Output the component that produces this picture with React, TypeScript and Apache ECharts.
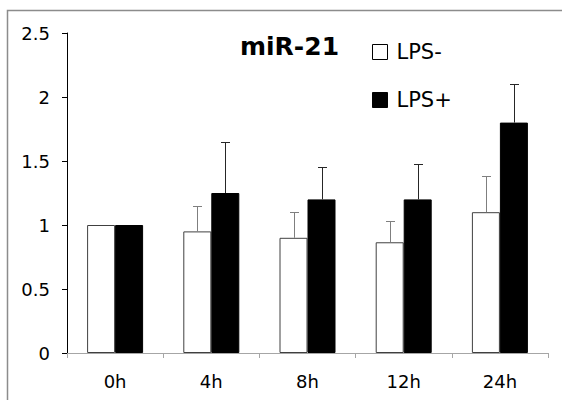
import React, { useEffect, useRef } from "react";
import * as echarts from "echarts";

const categories = ["0h", "4h", "8h", "12h", "24h"];
const lpsMinus = [1, 0.95, 0.9, 0.865, 1.1];
const lpsMinusErr = [0, 0.2, 0.2, 0.17, 0.28];
const lpsPlus = [1, 1.25, 1.2, 1.2, 1.8];
const lpsPlusErr = [0, 0.4, 0.25, 0.28, 0.3];
const yTicks = [0, 0.5, 1, 1.5, 2, 2.5];

const FONT = "DejaVu Sans";
const BAR_W = 28;

function errSeries(name: string, means: number[], errs: number[], offset: number, color: string) {
  return {
    type: "custom",
    name: name + " err",
    z: 5,
    data: means.map((m, i) => [i, m, errs[i]]),
    encode: { x: 0, y: 1 },
    renderItem: (params: any, api: any) => {
      const idx = api.value(0);
      const m = api.value(1);
      const e = api.value(2);
      if (!e) return { type: "group", children: [] };
      const p0 = api.coord([idx, m]);
      const p1 = api.coord([idx, m + e]);
      const x = Math.round(p0[0] + offset) + 0.5;
      const yt = Math.round(p1[1]) + 0.5;
      return {
        type: "group",
        children: [
          { type: "line", shape: { x1: x, y1: p0[1], x2: x, y2: yt }, style: { stroke: color, lineWidth: 1 } },
          { type: "line", shape: { x1: x - 4.5, y1: yt, x2: x + 4.5, y2: yt }, style: { stroke: color, lineWidth: 1 } },
        ],
      };
    },
  };
}

export default function App() {
  const ref = useRef<HTMLDivElement>(null);
  useEffect(() => {
    if (!ref.current) return;
    const chart = echarts.init(ref.current, undefined, { renderer: "svg" });
    chart.setOption({
      animation: false,
      backgroundColor: "#fff",
      textStyle: { fontFamily: FONT },
      title: {
        text: "miR-21",
        left: 240,
        top: 34,
        padding: 0,
        textStyle: { fontFamily: FONT, fontWeight: "bold", fontSize: 25, color: "#000" },
      },
      legend: {
        orient: "vertical",
        left: 372,
        top: 40,
        padding: 0,
        itemWidth: 15,
        itemHeight: 15,
        itemGap: 24,
        icon: "rect",
        textStyle: { fontFamily: FONT, fontSize: 21, color: "#000", padding: [0, 0, 0, 4], lineHeight: 24 },
        data: [
          { name: "LPS-", itemStyle: { color: "#fff", borderColor: "#000", borderWidth: 1 } },
          { name: "LPS+", itemStyle: { color: "#000", borderColor: "#000", borderWidth: 1 } },
        ],
      },
      graphic: [
        {
          type: "rect",
          shape: { x: 7.5, y: 10.5, width: 620, height: 420 },
          style: { fill: "none", stroke: "#8c8c8c", lineWidth: 1.5 },
          silent: true,
        },
      ],
      grid: { left: 67, right: 14, top: 33, bottom: 47 },
      xAxis: {
        type: "category",
        data: categories,
        axisLine: { lineStyle: { color: "#a6a6a6", width: 1 } },
        axisTick: { show: true, length: 5, lineStyle: { color: "#a6a6a6" } },
        axisLabel: { fontFamily: FONT, fontSize: 18, color: "#000", margin: 19 },
      },
      yAxis: {
        type: "value",
        min: 0,
        max: 2.5,
        interval: 0.5,
        splitLine: { show: false },
        axisLine: { show: true, lineStyle: { color: "#000", width: 1 } },
        axisTick: { show: true, length: 5, lineStyle: { color: "#000" } },
        axisLabel: {
          fontFamily: FONT,
          fontSize: 18,
          color: "#000",
          margin: 17,
          formatter: (v: number) => (yTicks.includes(v) ? String(v) : ""),
        },
      },
      series: [
        {
          type: "bar",
          name: "LPS-",
          data: lpsMinus,
          barWidth: BAR_W,
          barGap: "0%",
          itemStyle: { color: "#fff", borderColor: "#404040", borderWidth: 1 },
        },
        {
          type: "bar",
          name: "LPS+",
          data: lpsPlus,
          barWidth: BAR_W,
          barGap: "0%",
          itemStyle: { color: "#000", borderColor: "#000", borderWidth: 1 },
        },
        errSeries("LPS-", lpsMinus, lpsMinusErr, -BAR_W / 2, "#7f7f7f"),
        errSeries("LPS+", lpsPlus, lpsPlusErr, BAR_W / 2, "#262626"),
      ],
    });
    return () => chart.dispose();
  }, []);
  return (
    <div
      ref={ref}
      style={{ position: "fixed", left: 0, top: 0, width: 562, height: 400 }}
    />
  );
}
